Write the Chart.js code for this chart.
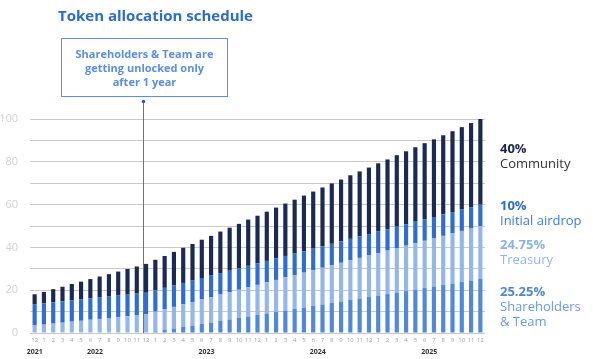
<!DOCTYPE html>
<html>
<head>
<meta charset="utf-8">
<script src="https://cdn.jsdelivr.net/npm/chart.js@4"></script>
<style>
  body { margin: 0; background: #fff; font-family: "Open Sans", sans-serif; }
  #wrap { position: relative; width: 593px; height: 359px; }
  #title { position: absolute; left: 58px; top: 5px; font-size: 15px; font-weight: 700; color: #2b6ccf; }
  #note {
    position: absolute; left: 61px; top: 38px; width: 165px; height: 57px;
    border: 1px solid #5b8fdc; color: #5b8ede; font-size: 11px; font-weight: 700;
    text-align: center; line-height: 14px; display: flex; align-items: center; justify-content: center;
  }
  .lg { position: absolute; left: 500px; font-size: 13px; line-height: 15px; }
  .lg b { display: block; }
</style>
</head>
<body>
<div id="wrap">
  <canvas id="c" width="593" height="359"></canvas>
  <div id="title">Token allocation schedule</div>
  <div id="note">Shareholders &amp; Team are<br>getting unlocked only<br>after 1 year</div>
  <div class="lg" style="top:141px;color:#333"><b style="color:#1c2444">40%</b>Community</div>
  <div class="lg" style="top:198px;color:#3b7ddd"><b style="color:#2f6cd2">10%</b>Initial airdrop</div>
  <div class="lg" style="top:237px;color:#93b7ea"><b style="color:#8ab0e6">24.75%</b>Treasury</div>
  <div class="lg" style="top:284px;color:#6b9be0"><b style="color:#4f86d8">25.25%</b>Shareholders<br>&amp; Team</div>
</div>
<script>
// months Dec 2021 -> Dec 2025
const months = ["12",
  "1","2","3","4","5","6","7","8","9","10","11","12",
  "1","2","3","4","5","6","7","8","9","10","11","12",
  "1","2","3","4","5","6","7","8","9","10","11","12",
  "1","2","3","4","5","6","7","8","9","10","11","12"];

const years = ["2021", "2022", "2023", "2024", "2025"];
const yearPos = [0, 6.5, 18.5, 30.5, 42.5];

const shareholders = [0,0,0,0,0,0,0,0,0,0,0,0,0,
  0.7,1.4,2.1,2.8,3.5,4.2,4.9,5.6,6.3,7.0,7.7,8.4,
  9.1,9.8,10.5,11.2,11.9,12.6,13.3,14.0,14.7,15.4,16.1,16.8,
  17.5,18.2,18.9,19.6,20.3,21.0,21.7,22.4,23.1,23.8,24.5,25.25];

const treasury = [3.5,
  3.9,4.4,4.8,5.3,5.7,6.2,6.6,7.0,7.5,7.9,8.4,8.8,
  9.3,9.7,10.1,10.6,11.0,11.5,11.9,12.4,12.8,13.2,13.7,14.1,
  14.6,15.0,15.5,15.9,16.3,16.8,17.2,17.7,18.1,18.6,19.0,19.4,
  19.9,20.3,20.8,21.2,21.7,22.1,22.5,23.0,23.4,23.9,24.3,24.75];

const airdrop = [10,
  10,10,10,10,10,10,10,10,10,10,10,10,
  10,10,10,10,10,10,10,10,10,10,10,10,
  10,10,10,10,10,10,10,10,10,10,10,10,
  10,10,10,10,10,10,10,10,10,10,10,10];

const community = [4.6,
  5.3,6.1,6.8,7.6,8.3,9.0,9.8,10.5,11.2,12.0,12.7,13.5,
  14.2,14.9,15.7,16.4,17.1,17.9,18.6,19.4,20.1,20.8,21.6,22.3,
  23.0,23.8,24.5,25.2,26.0,26.7,27.5,28.2,28.9,29.7,30.4,31.1,
  31.9,32.6,33.4,34.1,34.8,35.6,36.3,37.0,37.8,38.5,39.3,40.0];

const unlockAt = 11.65;

// vertical marker + year labels
const extras = {
    id: "extras",
    afterDraw(chart) {
        const ctx = chart.ctx;
        const xs = chart.scales.x;
        const area = chart.chartArea;

        const lx = Math.round(xs.getPixelForValue(unlockAt)) + 0.5;
        ctx.save();
        ctx.strokeStyle = "#3d7ad6";
        ctx.lineWidth = 1;
        ctx.beginPath();
        ctx.moveTo(lx, 101);
        ctx.lineTo(lx, area.bottom);
        ctx.stroke();
        ctx.fillStyle = "#2a5fb8";
        ctx.beginPath();
        ctx.arc(lx, 101.5, 1.8, 0, Math.PI * 2);
        ctx.fill();

        ctx.fillStyle = "#333";
        ctx.font = "bold 7px 'Open Sans'";
        ctx.textAlign = "center";
        ctx.textBaseline = "middle";
        years.forEach((y, i) => {
            ctx.fillText(y, xs.getPixelForValue(yearPos[i]), 352);
        });
        ctx.restore();
    }
};

new Chart(document.getElementById("c"), {
    type: "bar",
    data: {
        labels: months,
        datasets: [
            { label: "Shareholders & Team", data: shareholders, backgroundColor: "#5089da" },
            { label: "Treasury", data: treasury, backgroundColor: "#94b7e9" },
            { label: "Initial airdrop", data: airdrop, backgroundColor: "#2f6dd2" },
            { label: "Community", data: community, backgroundColor: "#1b2a52" }
        ]
    },
    options: {
        responsive: false,
        animation: false,
        layout: {
            padding: { top: 119, right: 108, left: 0, bottom: 0 }
        },
        datasets: {
            bar: { barPercentage: 0.45, categoryPercentage: 1 }
        },
        plugins: {
            legend: { display: false },
            tooltip: { enabled: false }
        },
        scales: {
            x: {
                stacked: true,
                grid: { display: false, drawTicks: false },
                border: { display: false },
                ticks: {
                    autoSkip: false,
                    maxRotation: 0,
                    padding: 4,
                    color: "#a0a0a0",
                    font: { size: 6, family: "Open Sans" }
                },
                afterFit(scale) { scale.height = 26; }
            },
            y: {
                stacked: true,
                min: 0,
                max: 100,
                z: 1,
                grid: { color: "rgba(165,165,165,0.6)", drawTicks: false },
                border: { display: false },
                ticks: {
                    stepSize: 10,
                    padding: 12,
                    color: "#d2d2d2",
                    font: { size: 11, family: "Open Sans" },
                    callback: v => (v % 20 === 0 ? v : "")
                },
                afterFit(scale) { scale.width = 30; }
            }
        }
    },
    plugins: [extras]
});
</script>
</body>
</html>
